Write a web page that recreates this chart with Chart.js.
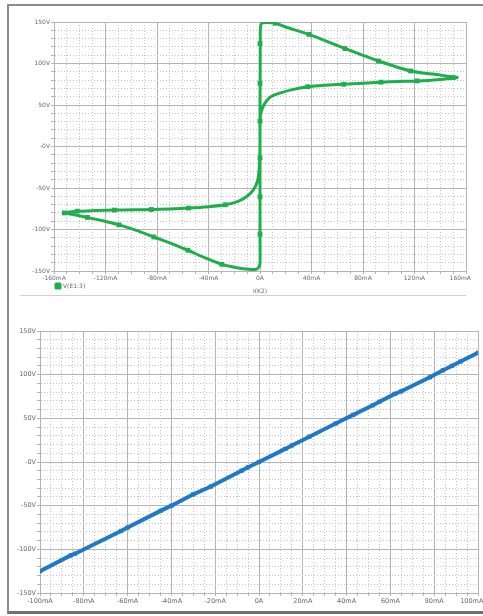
<!DOCTYPE html>
<html>
<head>
<meta charset="utf-8">
<script src="https://cdn.jsdelivr.net/npm/chart.js@4.4.1/dist/chart.umd.min.js"></script>
<style>
  html, body { margin: 0; padding: 0; background: #fff; }
  body { width: 483px; height: 616px; position: relative; overflow: hidden; }
  canvas { position: absolute; left: 0; }
  #grafico-01 { top: 0; }
  #grafico-02 { top: 300px; }
  .moldura { position: absolute; left: 7px; top: 4px; width: 476px; height: 605px;
    border-left: 2px solid #8c8c8c; border-top: 2px solid #8c8c8c; border-bottom: 3px solid #707070; }
  .separador { position: absolute; left: 20px; top: 295px; width: 446px; height: 1px; background: #d0d0d0; }
</style>
</head>
<body>
<div class="moldura"></div>
<div class="separador"></div>
<canvas id="grafico-01" width="483" height="300"></canvas>
<canvas id="grafico-02" width="483" height="316"></canvas>
<script>
// laco de histerese: corrente I(K2) em mA, tensao V(E1:3) em V
const lacoCorrente = [154, 140, 117, 92, 66, 38, 20, 12, 4, 1, 0.3,
  0.2, 0.1, 0, 0, 0, 0, 0,
  -1, -3, -8.5, -18, -29.6, -43, -56, -70, -82.5, -96, -109.5, -122, -134, -145, -152,
  -142, -128, -113, -98, -84.5, -70, -55.6, -40, -27, -17, -10, -5, -2, -0.8, -0.3, 0,
  0, 0.4, 1.3, 3, 5.4, 9, 14.7, 25, 37, 50, 65, 80, 94, 108, 122, 138, 154];
const lacoTensao = [83, 86, 91, 103, 118, 135, 144, 148.5, 149.5, 148, 142,
  124, 76, 30, -13.7, -60.5, -105.7, -140,
  -145.5, -148, -148, -146, -142, -134, -125, -116, -109, -101, -94.4, -89.5, -85.5, -82, -80,
  -78, -77.2, -76.6, -76.2, -75.9, -75.2, -74.2, -72.5, -70.2, -66, -60, -52, -42, -30, -15, 0,
  30, 38, 43.6, 50, 55.7, 60.5, 64, 68.5, 72, 73.8, 75, 76.3, 77.5, 78.3, 79, 80.5, 83];

// marcadores quadrados sobre o laco
const marcaCorrente = [150, 117, 92, 66, 38, 12, 0, 0, 0, 0, 0, 0,
  -29.6, -56, -82.5, -109.5, -134, -152, -142, -113, -84.5, -55.6, -27, 37, 65, 94, 122];
const marcaTensao = [83, 91, 103, 118, 135, 148.5, 124, 76, 30.6, -13.7, -60.5, -105.7,
  -142, -125, -109, -94.4, -85.5, -80, -78, -76.6, -75.9, -74.2, -70.2, 72, 75, 77.5, 79];

// reta do segundo grafico
const retaCorrente = [-100, -86, -84, -63, -60, -45, -40, -30, -22, -8, -5, 0,
  12, 15, 23, 35, 43, 52, 55, 62, 65, 78, 84, 88, 92, 100];
const retaTensao = [-125, -107, -105, -79, -75, -56, -50, -37, -28, -10, -6, 0,
  15, 19, 29, 44, 54, 65, 69, 78, 81, 97, 105, 110, 115, 125];

// rotulos dos eixos
const tensaoTicks = [-150, -100, -50, 0, 50, 100, 150];
const tensaoRotulos = ['-150V', '-100V', '-50V', '-0V', '50V', '100V', '150V'];
const correnteTicks1 = [-160, -120, -80, -40, 0, 40, 80, 120, 160];
const correnteRotulos1 = ['-160mA', '-120mA', '-80mA', '-40mA', '0A', '40mA', '80mA', '120mA', '160mA'];
const correnteTicks2 = [-100, -80, -60, -40, -20, 0, 20, 40, 60, 80, 100];
const correnteRotulos2 = ['-100mA', '-80mA', '-60mA', '-40mA', '-20mA', '0A', '20mA', '40mA', '60mA', '80mA', '100mA'];

const corVerde = '#1eae4c';
const corAzul = '#1f79c9';
const corGrade = '#b4b4b4';
const corGradeFina = '#c4c4c4';
const corTexto = '#6a6a6a';

function pontos(xs, ys) {
  return xs.map((x, i) => ({ x: x, y: ys[i] }));
}

// rotulo so nos ticks principais; no eixo x o ultimo vai deslocado para a esquerda
function rotulo(ticks, rotulos, max, deslocaUltimo) {
  return function (value) {
    let i = ticks.indexOf(Math.round(value));
    if (i < 0) return '';
    return (deslocaUltimo && value === max) ? rotulos[i] + '      ' : rotulos[i];
  };
}

function principal(ctx, passo) {
  return ctx.tick !== undefined && Math.abs(Math.round(ctx.tick.value)) % passo === 0;
}

function eixo(min, max, step, passo, ticks, rotulos, tamanhoFonte, deslocaUltimo, extra) {
  return Object.assign({
    type: 'linear', min: min, max: max,
    ticks: {
      stepSize: step, autoSkip: false, maxRotation: 0, padding: 1,
      color: corTexto, font: { family: 'DejaVu Sans', size: tamanhoFonte },
      callback: rotulo(ticks, rotulos, max, deslocaUltimo)
    },
    grid: {
      color: (c) => principal(c, passo) ? corGrade : corGradeFina,
      lineWidth: 1, tickLength: 3, tickBorderDash: [], tickColor: corGrade
    },
    border: {
      color: corGrade,
      dash: (c) => principal(c, passo) ? [] : [1, 2]
    }
  }, extra || {});
}

function createLaco(IdElement) {
  let ctx = document.getElementById(IdElement).getContext('2d');
  window.graficoLaco = new Chart(ctx, {
    type: 'scatter',
    data: {
      datasets: [{
        label: 'V(E1:3)',
        data: pontos(lacoCorrente, lacoTensao),
        showLine: true, borderColor: corVerde, backgroundColor: corVerde,
        borderWidth: 3, pointRadius: 0, tension: 0.25, borderJoinStyle: 'round'
      }, {
        label: 'marcas',
        data: pontos(marcaCorrente, marcaTensao),
        showLine: false, pointStyle: 'rect', pointRadius: 3.4,
        borderColor: corVerde, backgroundColor: corVerde, borderWidth: 0
      }]
    },
    options: {
      responsive: false, animation: false, devicePixelRatio: 1,
      layout: { padding: { left: 24, right: 17, top: 22, bottom: 1 } },
      plugins: {
        tooltip: { enabled: false },
        legend: {
          position: 'bottom', align: 'start', fullSize: false,
          labels: {
            boxWidth: 4, boxHeight: 4, padding: 2, color: corTexto,
            font: { family: 'DejaVu Sans', size: 6 },
            filter: (item) => item.datasetIndex === 0
          }
        }
      },
      scales: {
        x: eixo(-160, 160, 10, 40, correnteTicks1, correnteRotulos1, 6, true, {
          title: { display: true, text: 'I(K2)', color: corTexto,
            font: { family: 'DejaVu Sans', size: 6 }, padding: { top: 0, bottom: -13.6 } },
          afterFit: (s) => { s.height = 10; s.paddingLeft = 0; s.paddingRight = 0; }
        }),
        y: eixo(-150, 150, 10, 50, tensaoTicks, tensaoRotulos, 6, false, {
          afterFit: (s) => { s.width = 30; }
        })
      }
    }
  });
}

function createReta(IdElement) {
  let ctx = document.getElementById(IdElement).getContext('2d');
  window.graficoReta = new Chart(ctx, {
    type: 'scatter',
    data: {
      datasets: [{
        label: 'reta',
        data: pontos(retaCorrente, retaTensao),
        showLine: true, borderColor: corAzul, backgroundColor: corAzul,
        borderWidth: 4, pointStyle: 'rect', pointRadius: 3, pointBorderWidth: 0, tension: 0
      }]
    },
    options: {
      responsive: false, animation: false, devicePixelRatio: 1,
      layout: { padding: { left: 10, right: 5, top: 31, bottom: 9 } },
      plugins: { tooltip: { enabled: false }, legend: { display: false } },
      scales: {
        x: eixo(-100, 100, 5, 20, correnteTicks2, correnteRotulos2, 6.5, true, {
          afterFit: (s) => { s.height = 14; s.paddingLeft = 0; s.paddingRight = 0; }
        }),
        y: eixo(-150, 150, 10, 50, tensaoTicks, tensaoRotulos, 6.5, false, {
          afterFit: (s) => { s.width = 30; }
        })
      }
    }
  });
}

createLaco('grafico-01');
createReta('grafico-02');
</script>
</body>
</html>
